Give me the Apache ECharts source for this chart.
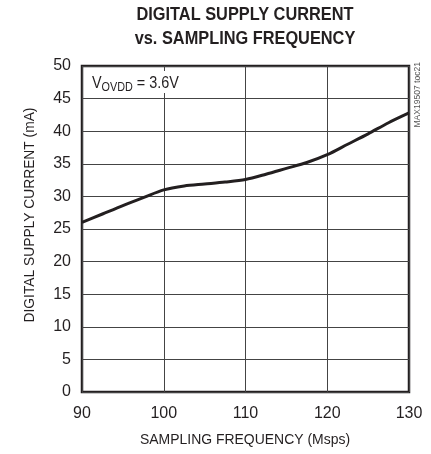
<!DOCTYPE html>
<html><head><meta charset="utf-8">
<script src="https://cdn.jsdelivr.net/npm/echarts@6/dist/echarts.min.js"></script>
<style>html,body{margin:0;padding:0;background:#fff}#c{width:431px;height:454px}</style>
</head><body><div id="c"></div>
<script>
const freq = [90, 92.5, 95, 97.5, 100, 102.5, 105, 107.5, 110, 112.5, 115, 117.5, 120, 122.5, 125, 127.5, 130];
const current = [26.0, 27.3, 28.6, 29.8, 31.0, 31.6, 31.9, 32.2, 32.6, 33.4, 34.3, 35.2, 36.4, 38.0, 39.6, 41.3, 42.8];
const titleLines = ['DIGITAL SUPPLY CURRENT', 'vs. SAMPLING FREQUENCY'];
const xName = 'SAMPLING FREQUENCY (Msps)';
const yName = 'DIGITAL SUPPLY CURRENT (mA)';
const watermark = 'MAX19507 toc21';

const FONT = '"Liberation Sans", Arial, sans-serif';
const INK = '#231f20';
const chart = echarts.init(document.getElementById('c'), null, {renderer: 'canvas'});
chart.setOption({
  animation: false,
  grid: {left: 82, right: 22, top: 66, bottom: 62, show: true, borderColor: INK, borderWidth: 2.5},
  xAxis: {
    type: 'value', min: 90, max: 130, interval: 10,
    axisLine: {show: false}, axisTick: {show: false},
    axisLabel: {fontFamily: FONT, fontSize: 16, color: INK, margin: 14},
    splitLine: {lineStyle: {color: '#444', width: 1}}
  },
  yAxis: {
    type: 'value', min: 0, max: 50, interval: 5,
    axisLine: {show: false}, axisTick: {show: false},
    axisLabel: {fontFamily: FONT, fontSize: 16, color: INK, margin: 11},
    splitLine: {lineStyle: {color: '#444', width: 1}}
  },
  graphic: [
    {type: 'text', x: 245, y: 15, scaleX: 0.86, z: 10,
      style: {text: titleLines[0], fontFamily: FONT, fontWeight: 'bold', fontSize: 19, fill: INK, align: 'center', verticalAlign: 'middle'}},
    {type: 'text', x: 245, y: 39, scaleX: 0.86, z: 10,
      style: {text: titleLines[1], fontFamily: FONT, fontWeight: 'bold', fontSize: 19, fill: INK, align: 'center', verticalAlign: 'middle'}},
    {type: 'text', x: 245, y: 440, scaleX: 0.9, z: 10,
      style: {text: xName, fontFamily: FONT, fontSize: 15.5, fill: INK, align: 'center', verticalAlign: 'middle'}},
    {type: 'text', x: 30, y: 215, rotation: Math.PI / 2, scaleX: 0.89, z: 10,
      style: {text: yName, fontFamily: FONT, fontSize: 15.5, fill: INK, align: 'center', verticalAlign: 'middle'}},
    {type: 'rect', left: 88, top: 71, shape: {width: 118, height: 22}, style: {fill: '#fff'}, z: 5},
    {type: 'text', x: 92, y: 84, scaleX: 0.9, z: 10,
      style: {rich: {
        n: {fontFamily: FONT, fontSize: 16, fill: INK},
        s: {fontFamily: FONT, fontSize: 12, fill: INK, padding: [7, 0, 0, 0]}
      }, text: '{n|V}{s|OVDD}{n| = 3.6V}', verticalAlign: 'middle'}},
    {type: 'text', x: 418, y: 62, rotation: Math.PI / 2, scaleX: 0.95, z: 10,
      style: {text: watermark, fontFamily: FONT, fontSize: 9, fill: '#555', align: 'right', verticalAlign: 'middle'}}
  ],
  series: [{
    type: 'line', data: freq.map((f, i) => [f, current[i]]),
    smooth: 0.3, symbol: 'none',
    lineStyle: {color: INK, width: 3}
  }]
});
</script></body></html>
